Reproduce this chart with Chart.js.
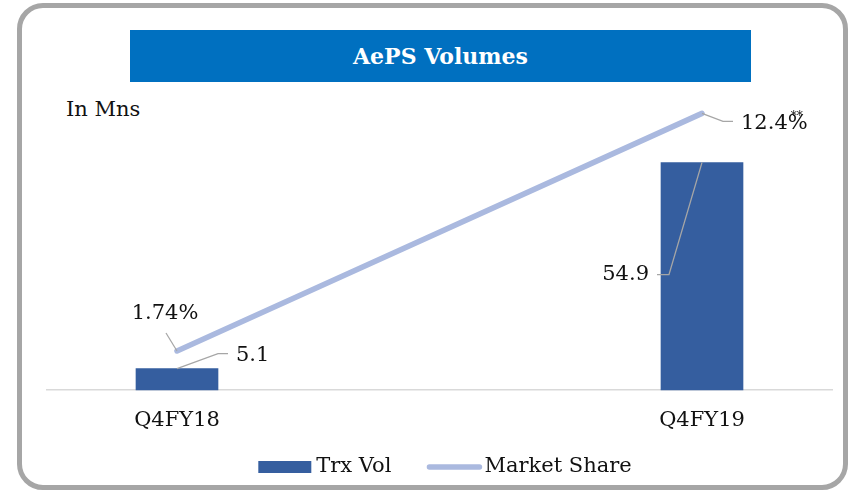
<!DOCTYPE html>
<html lang="en">
<head>
<meta charset="UTF-8">
<title>AePS Volumes</title>
<script src="https://cdn.jsdelivr.net/npm/chart.js"></script>
<style>
  body { margin: 0; background: #fff; }
  .frame { position: relative; width: 848px; height: 491px; overflow: hidden; font-family: "DejaVu Serif", serif; }
  .box { position: absolute; left: 17px; top: 3px; width: 821px; height: 477px; border: 5px solid #a6a6a6; border-radius: 26px; }
  .banner { position: absolute; left: 130px; top: 30px; width: 621px; height: 52px; background: #0070c0; color: #fff;
            font-weight: bold; font-size: 22px; text-align: center; line-height: 52px; }
  .unit { position: absolute; left: 66px; top: 97px; font-size: 21px; color: #111; }
  .chart { position: absolute; left: 0; top: 0; width: 848px; height: 491px; }
</style>
</head>
<body>
<div class="frame">
  <div class="box"></div>
  <div class="banner">AePS Volumes</div>
  <div class="unit">In Mns</div>
  <div class="chart"><canvas id="aepsChart"></canvas></div>
</div>

<script>
  const quarters = ['Q4FY18', 'Q4FY19'];
  const trxVol = [5.1, 54.9];
  const marketShare = [1.74, 12.4];
  const shareNotes = ['', '**'];

  const barColor = '#355e9f';
  const lineColor = '#aab9df';
  const leaderColor = '#a6a6a6';
  const textColor = '#111';
  const font = '21px "DejaVu Serif"';

  // labels with leader lines + legend, drawn on top of the datasets
  const annotate = {
    id: 'annotate',
    beforeDatasetsDraw(chart) {
      const c = chart.ctx;
      const y = chart.chartArea.bottom;
      c.save();
      c.strokeStyle = '#d9d9d9';
      c.lineWidth = 1.5;
      c.beginPath();
      c.moveTo(46, y);
      c.lineTo(833, y);
      c.stroke();
      c.restore();
    },
    afterDatasetsDraw(chart) {
      const c = chart.ctx;
      const bars = chart.getDatasetMeta(0).data;
      const pts = chart.getDatasetMeta(1).data;
      c.save();
      c.strokeStyle = leaderColor;
      c.lineWidth = 1.25;
      c.fillStyle = textColor;
      c.font = font;
      c.textBaseline = 'middle';

      function leader(points) {
        c.beginPath();
        c.moveTo(points[0][0], points[0][1]);
        for (let i = 1; i < points.length; i++) c.lineTo(points[i][0], points[i][1]);
        c.stroke();
      }

      // bar labels
      let b = bars[0];
      leader([[b.x, b.y], [b.x + 41, b.y - 15], [b.x + 51, b.y - 15]]);
      c.textAlign = 'left';
      c.fillText(String(trxVol[0]), b.x + 59, b.y - 13);

      b = bars[1];
      leader([[b.x, b.y], [b.x - 33, b.y + 112], [b.x - 45, b.y + 112]]);
      c.textAlign = 'right';
      c.fillText(String(trxVol[1]), b.x - 53, b.y + 112);

      // line labels
      let p = pts[0];
      leader([[p.x - 11, p.y - 18], [p.x, p.y]]);
      c.textAlign = 'center';
      c.fillText(marketShare[0] + '%' + shareNotes[0], p.x - 12, p.y - 37);

      p = pts[1];
      leader([[p.x, p.y], [p.x + 21, p.y + 8], [p.x + 31, p.y + 8]]);
      c.textAlign = 'left';
      const txt = marketShare[1] + '%';
      c.fillText(txt, p.x + 39, p.y + 10);
      const w = c.measureText(txt).width;
      c.font = '12px "DejaVu Serif"';
      c.fillText(shareNotes[1], p.x + 39 + w - 17, p.y + 3);

      // legend
      c.font = font;
      const labA = chart.data.datasets[0].label;
      const labB = chart.data.datasets[1].label;
      const wA = c.measureText(labA).width;
      const wB = c.measureText(labB).width;
      const total = 53 + 5 + wA + 35 + 56 + 2 + wB;
      let x = 445 - total / 2;
      const ly = 467;
      c.fillStyle = barColor;
      c.fillRect(x, ly - 6, 53, 12);
      x += 58;
      c.fillStyle = textColor;
      c.textAlign = 'left';
      c.fillText(labA, x, ly);
      x += wA + 35;
      c.strokeStyle = lineColor;
      c.lineWidth = 5.5;
      c.lineCap = 'round';
      c.beginPath();
      c.moveTo(x + 3, ly);
      c.lineTo(x + 53, ly);
      c.stroke();
      x += 58;
      c.fillText(labB, x, ly);
      c.restore();
    }
  };

  const ctx = document.getElementById('aepsChart').getContext('2d');
  new Chart(ctx, {
    data: {
      labels: quarters,
      datasets: [
        {
          type: 'bar',
          label: 'Trx Vol',
          data: trxVol,
          yAxisID: 'y',
          backgroundColor: barColor,
          barThickness: 82,
          clip: false,
          order: 2
        },
        {
          type: 'line',
          label: 'Market Share',
          data: marketShare,
          yAxisID: 'y1',
          borderColor: lineColor,
          borderWidth: 5.5,
          borderCapStyle: 'round',
          pointRadius: 0,
          clip: false,
          order: 1
        }
      ]
    },
    options: {
      responsive: true,
      maintainAspectRatio: false,
      animation: false,
      layout: { padding: { left: 177, right: 146, top: 100, bottom: 40 } },
      plugins: { legend: { display: false }, tooltip: { enabled: false } },
      scales: {
        x: {
          offset: false,
          grid: { display: false, drawTicks: false },
          border: { display: false },
          ticks: { color: textColor, font: { family: 'DejaVu Serif', size: 21 }, padding: 18, maxRotation: 0 },
          afterFit(scale) { scale.paddingLeft = 0; scale.paddingRight = 0; }
        },
        y: { display: false, min: 0, max: 70 },
        y1: { display: false, min: 0, max: 13, position: 'right' }
      }
    },
    plugins: [annotate]
  });
</script>
</body>
</html>
